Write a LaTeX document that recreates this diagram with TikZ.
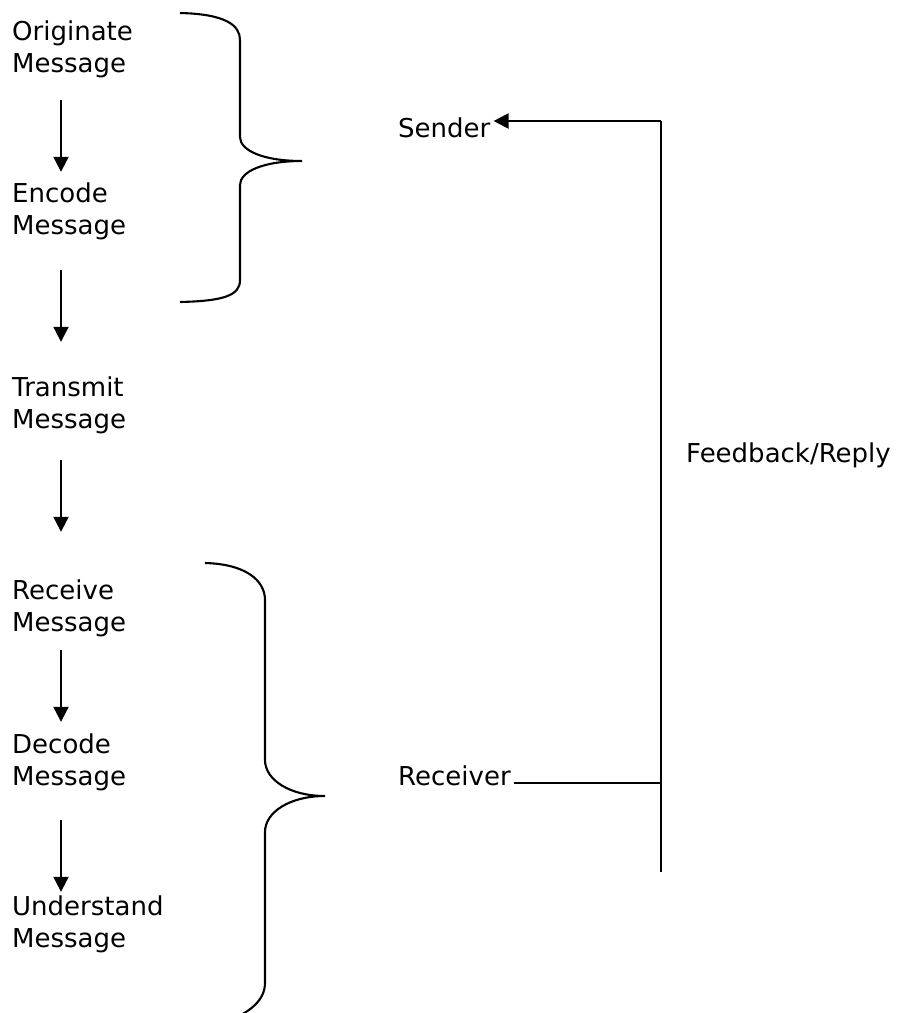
\documentclass[tikz,border=0pt]{standalone}
\usepackage{fontspec}
\setmainfont{DejaVu Sans}
\usetikzlibrary{arrows.meta}
\tikzset{
  lbl/.style={anchor=base west, inner sep=0pt},
  ln/.style={line width=2.1pt, line cap=butt},
  arr/.style={ln, -{Triangle[length=15pt,width=15pt]}},
  brace/.style={line width=2.1pt}
}
\newcommand{\twoline}[2]{\begin{tabular}[t]{@{}l@{}}#1\\#2\end{tabular}}
\begin{document}
\begin{tikzpicture}[x=1pt,y=-1pt,font=\fontsize{26}{32}\selectfont]
\useasboundingbox (0,0) rectangle (900,1013);
\clip (0,0) rectangle (900,1013);
% left column
\node[lbl] (orig)  at (12,40)  {\twoline{Originate}{Message}};
\node[lbl] (enc)   at (12,202) {\twoline{Encode}{Message}};
\node[lbl] (trans) at (12,396) {\twoline{Transmit}{Message}};
\node[lbl] (recv)  at (12,599) {\twoline{Receive}{Message}};
\node[lbl] (dec)   at (12,753) {\twoline{Decode}{Message}};
\node[lbl] (und)   at (12,915) {\twoline{Understand}{Message}};
% arrows
\draw[arr, shorten <=18.4pt, shorten >=7.6pt]  ([xshift=49pt]orig.south west)  -- ([xshift=49pt]orig.south west |- enc.north);
\draw[arr, shorten <=26.4pt, shorten >=31.6pt] ([xshift=49pt]enc.south west)   -- ([xshift=49pt]enc.south west |- trans.north);
\draw[arr, shorten <=22.4pt, shorten >=44.6pt] ([xshift=49pt]trans.south west) -- ([xshift=49pt]trans.south west |- recv.north);
\draw[arr, shorten <=9.4pt,  shorten >=8.6pt]  ([xshift=49pt]recv.south west)  -- ([xshift=49pt]recv.south west |- dec.north);
\draw[arr, shorten <=25.4pt, shorten >=0.6pt]  ([xshift=49pt]dec.south west)   -- ([xshift=49pt]dec.south west |- und.north);
% braces
\draw[brace] (180,13) .. controls (225,14) and (240,25) .. (240,40) -- (240,137)
  .. controls (240,150) and (262,161) .. (302,161)
  .. controls (262,161) and (240,172) .. (240,185) -- (240,280)
  .. controls (240,295) and (225,301) .. (180,302);
\draw[brace] (205,563) .. controls (245,564) and (265,580) .. (265,600) -- (265,760)
  .. controls (265,780) and (290,796) .. (325,796)
  .. controls (290,796) and (265,812) .. (265,832) -- (265,983)
  .. controls (265,1000) and (250,1013) .. (225,1022);
% right side
\node[lbl, inner xsep=3pt] (sender)   at (395,137) {Sender};
\node[lbl, inner xsep=3pt] (receiver) at (395,785) {Receiver};
\node[lbl] (fb) at (686,462) {Feedback/Reply};
\coordinate (top) at (661,121);
\coordinate (bot) at (661,872);
\coordinate (rj)  at (661,783);
\draw[ln] (top) -- (bot);
\draw[arr] (top) -- (top -| sender.east);
\draw[ln] (receiver.east |- rj) -- (rj);
\end{tikzpicture}
\end{document}
